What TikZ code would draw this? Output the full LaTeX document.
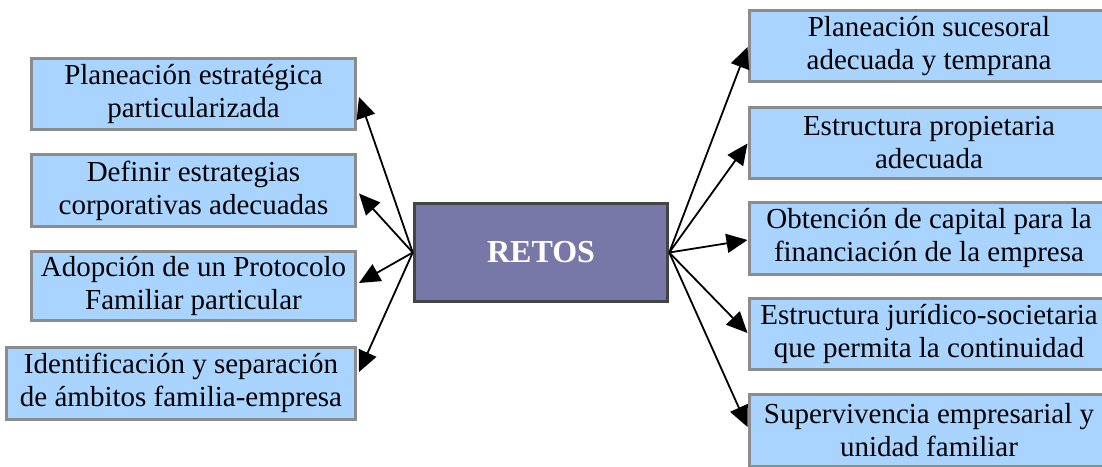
\documentclass[tikz,border=0pt]{standalone}
\usepackage{fontspec}
\setmainfont{Liberation Serif}
\usetikzlibrary{arrows.meta}
\definecolor{boxfill}{RGB}{168,212,255}
\definecolor{boxline}{RGB}{140,140,140}
\definecolor{centerfill}{RGB}{120,120,168}
\definecolor{centerline}{RGB}{68,68,68}
\tikzset{
  goalbox/.style={draw=boxline, line width=3pt, fill=boxfill, align=center,
    font=\fontsize{29}{33}\selectfont, inner sep=0pt, text=black},
  centerbox/.style={draw=centerline, line width=3.5pt, fill=centerfill,
    minimum width=253pt, minimum height=98pt, inner sep=0pt,
    font=\fontsize{32}{36}\selectfont\bfseries, text=white},
  link/.style={line width=1.8pt, -{Triangle[length=21pt,width=19pt]}}
}
\begin{document}
\begin{tikzpicture}[x=1pt,y=-1pt]
\clip (0,0) rectangle (1102,466);
\useasboundingbox (0,0) rectangle (1102,466);
\fill[white] (0,0) rectangle (1102,466);
\node[centerbox] (c) at (541,252.5) {RETOS};
% left boxes
\node[goalbox, minimum width=324pt, minimum height=71pt] (l1) at (193.5,94) {Planeación estratégica\\particularizada};
\node[goalbox, minimum width=324pt, minimum height=72pt] (l2) at (193.5,190.5) {Definir estrategias\\corporativas adecuadas};
\node[goalbox, minimum width=324pt, minimum height=69pt] (l3) at (193.5,286) {Adopción de un Protocolo\\Familiar particular};
\node[goalbox, minimum width=349pt, minimum height=72pt] (l4) at (181,383) {Identificación y separación\\de ámbitos familia-empresa};
% right boxes
\node[goalbox, minimum width=360pt, minimum height=71pt] (r1) at (929,46) {Planeación sucesoral\\adecuada y temprana};
\node[goalbox, minimum width=360pt, minimum height=71pt] (r2) at (929,142.5) {Estructura propietaria\\adecuada};
\node[goalbox, minimum width=360pt, minimum height=72pt] (r3) at (929,238) {Obtención de capital para la\\financiación de la empresa};
\node[goalbox, minimum width=360pt, minimum height=71pt] (r4) at (929,334) {Estructura jurídico-societaria\\que permita la continuidad};
\node[goalbox, minimum width=360pt, minimum height=72pt] (r5) at (929,430) {Supervivencia empresarial y\\unidad familiar};
% connectors
\draw[link] (c.west) -- ([shift={(2,3)}]l1.east);
\draw[link] (c.west) -- ([shift={(2,3)}]l2.east);
\draw[link] (c.west) -- ([shift={(2,-3)}]l3.east);
\draw[link] (c.west) -- ([shift={(2,-11)}]l4.east);
\draw[link] (c.east) -- ([shift={(0,1)}]r1.west);
\draw[link] (c.east) -- ([shift={(0,1)}]r2.west);
\draw[link] (c.east) -- ([shift={(0,2)}]r3.west);
\draw[link] (c.east) -- ([shift={(0,-1)}]r4.west);
\draw[link] (c.east) -- ([shift={(0,-3)}]r5.west);
\end{tikzpicture}
\end{document}
